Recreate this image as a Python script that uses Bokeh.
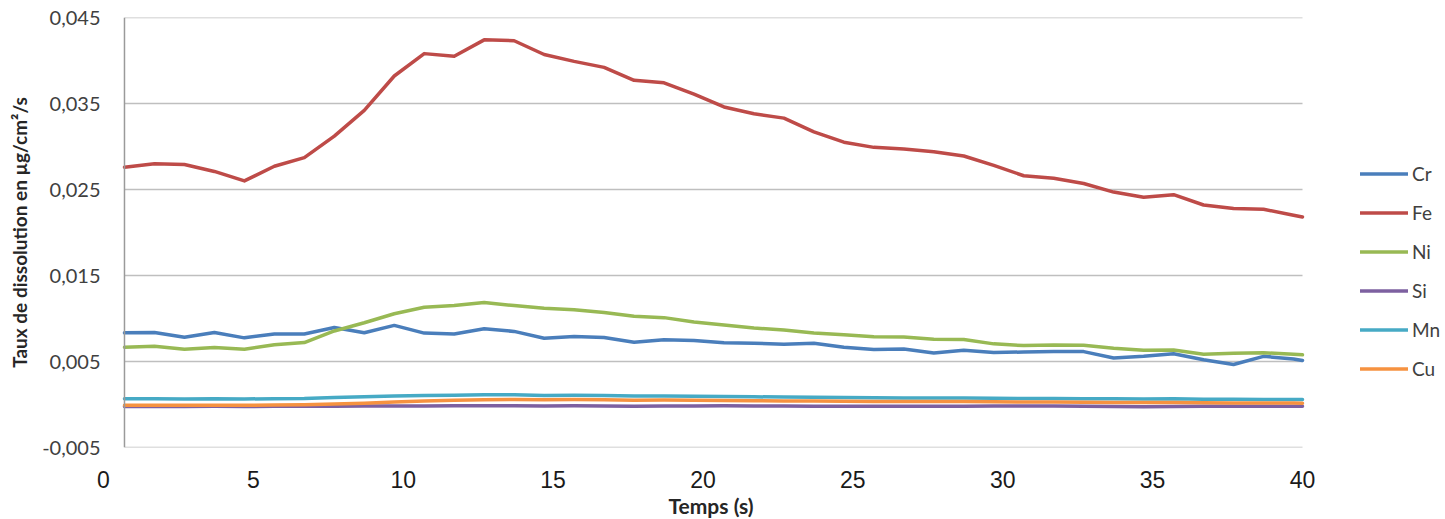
from bokeh.plotting import figure
from bokeh.models import (Range1d, FixedTicker, CustomJSTickFormatter, Span,
                          Legend, LegendItem, Title)
from bokeh.embed import file_html
from bokeh.resources import INLINE

# ---------------- data ----------------
time_s = [0.7, 1.7, 2.7, 3.7, 4.7, 5.7, 6.7, 7.7, 8.7, 9.7,
          10.7, 11.7, 12.7, 13.7, 14.7, 15.7, 16.7, 17.7, 18.7, 19.7,
          20.7, 21.7, 22.7, 23.7, 24.7, 25.7, 26.7, 27.7, 28.7, 29.7,
          30.7, 31.7, 32.7, 33.7, 34.7, 35.7, 36.7, 37.7, 38.7, 39.7, 40.0]

cr = [0.00833, 0.00838, 0.00783, 0.00838, 0.00775, 0.00820, 0.00820, 0.00895, 0.00835, 0.00920,
      0.00830, 0.00820, 0.00880, 0.00850, 0.00771, 0.00792, 0.00780, 0.00725, 0.00752, 0.00745,
      0.00717, 0.00712, 0.00700, 0.00712, 0.00665, 0.00640, 0.00645, 0.00600, 0.00630, 0.00605,
      0.00610, 0.00615, 0.00615, 0.00540, 0.00560, 0.00590, 0.00520, 0.00465, 0.00560, 0.00530,
      0.00512]

fe = [0.0276, 0.0280, 0.0279, 0.0271, 0.0260, 0.0277, 0.0287, 0.0312, 0.0342, 0.0382,
      0.0408, 0.0405, 0.0424, 0.0423, 0.0407, 0.0399, 0.0392, 0.0377, 0.0374, 0.0361,
      0.0346, 0.0338, 0.0333, 0.0317, 0.0305, 0.0299, 0.0297, 0.0294, 0.0289, 0.0278,
      0.0266, 0.0263, 0.0257, 0.0247, 0.0241, 0.0244, 0.0232, 0.0228, 0.0227, 0.0220,
      0.0218]

ni = [0.00666, 0.00676, 0.00643, 0.00664, 0.00643, 0.00694, 0.00720, 0.00855, 0.00950, 0.01055,
      0.01130, 0.01150, 0.01185, 0.01150, 0.01120, 0.01103, 0.01070, 0.01025, 0.01010, 0.00960,
      0.00925, 0.00890, 0.00865, 0.00832, 0.00810, 0.00787, 0.00785, 0.00760, 0.00756, 0.00705,
      0.00685, 0.00692, 0.00688, 0.00655, 0.00630, 0.00634, 0.00585, 0.00597, 0.00601, 0.00585,
      0.00578]

si = [-0.00022, -0.00022, -0.00023, -0.00021, -0.00023, -0.00021, -0.00020, -0.00019, -0.00018, -0.00017,
      -0.00016, -0.00015, -0.00014, -0.00015, -0.00016, -0.00015, -0.00017, -0.00019, -0.00018, -0.00016,
      -0.00015, -0.00016, -0.00018, -0.00019, -0.00020, -0.00021, -0.00020, -0.00019, -0.00020, -0.00018,
      -0.00017, -0.00018, -0.00020, -0.00024, -0.00026, -0.00024, -0.00021, -0.00020, -0.00020, -0.00020,
      -0.00020]

mn = [0.00066, 0.00066, 0.00064, 0.00068, 0.00064, 0.00068, 0.00070, 0.00080, 0.00090, 0.00098,
      0.00105, 0.00108, 0.00113, 0.00112, 0.00105, 0.00108, 0.00104, 0.00098, 0.00100, 0.00095,
      0.00092, 0.00090, 0.00086, 0.00084, 0.00080, 0.00078, 0.00077, 0.00075, 0.00076, 0.00072,
      0.00070, 0.00071, 0.00068, 0.00066, 0.00064, 0.00066, 0.00060, 0.00060, 0.00059, 0.00058,
      0.00058]

cu = [-0.00010, -0.00010, -0.00010, -0.00009, -0.00010, -0.00007, -0.00003, 0.00005, 0.00015, 0.00028,
      0.00040, 0.00050, 0.00056, 0.00058, 0.00056, 0.00058, 0.00055, 0.00050, 0.00052, 0.00048,
      0.00046, 0.00045, 0.00042, 0.00040, 0.00038, 0.00036, 0.00036, 0.00034, 0.00035, 0.00031,
      0.00028, 0.00029, 0.00027, 0.00024, 0.00022, 0.00024, 0.00019, 0.00018, 0.00018, 0.00016,
      0.00015]

series_names = ["Cr", "Fe", "Ni", "Si", "Mn", "Cu"]
series_values = [cr, fe, ni, si, mn, cu]
series_colors = ["#4A7EBB", "#BE4B48", "#98B954", "#7D60A0", "#46AAC5", "#F69240"]

y_ticks = [-0.005, 0.005, 0.015, 0.025, 0.035, 0.045]
x_ticks = [0, 5, 10, 15, 20, 25, 30, 35, 40]

# ---------------- layout (pixels) ----------------
W, H = 1445, 519
LEFT, TOP, BOTTOM = 103, 17, 72
PLOT_RIGHT = 1302                      # where x = 40 sits
frame_w = W - LEFT                     # frame runs to the right edge (legend lives inside)
x_end = x_ticks[-1] * frame_w / (PLOT_RIGHT - LEFT)

p = figure(width=W, height=H,
           x_range=Range1d(0, x_end), y_range=Range1d(y_ticks[0], y_ticks[-1]),
           output_backend="svg", toolbar_location=None,
           min_border_left=LEFT, min_border_right=0,
           min_border_top=TOP, min_border_bottom=BOTTOM)
p.outline_line_color = None
p.background_fill_color = "white"
p.border_fill_color = "white"
p.xgrid.visible = False
p.ygrid.visible = False

# horizontal gridlines starting at the vertical axis and ending at x = 40
n = len(y_ticks)
p.segment(x0=[time_s[0]] * n, x1=[x_ticks[-1]] * n, y0=y_ticks, y1=y_ticks,
          line_color="#BFBFBF", line_width=1.5)

# vertical axis line at start of data
p.add_layout(Span(location=time_s[0], dimension="height",
                  line_color="#9A9A9A", line_width=1.5))

renderers = []
for name, vals, col in zip(series_names, series_values, series_colors):
    r = p.line(time_s, vals, line_color=col, line_width=3.5,
               line_join="round", line_cap="round")
    renderers.append((name, r))

# y axis
p.yaxis.ticker = FixedTicker(ticks=y_ticks)
p.yaxis.formatter = CustomJSTickFormatter(code="return tick.toFixed(3).replace('.', ',');")
p.yaxis.axis_line_color = None
p.yaxis.major_tick_line_color = None
p.yaxis.minor_tick_line_color = None
p.yaxis.major_tick_out = 0
p.yaxis.major_label_standoff = 3
p.yaxis.major_label_text_font = "Lato"
p.yaxis.major_label_text_font_size = "20px"
p.yaxis.major_label_text_color = "#404040"
p.yaxis.axis_label = "Taux de dissolution en µg/cm²/s"
p.yaxis.axis_label_text_font = "Lato"
p.yaxis.axis_label_text_font_style = "bold"
p.yaxis.axis_label_text_font_size = "19px"
p.yaxis.axis_label_text_color = "#262626"
p.yaxis.axis_label_standoff = 8

# x axis
p.xaxis.ticker = FixedTicker(ticks=x_ticks)
p.xaxis.axis_line_color = None
p.xaxis.major_tick_line_color = None
p.xaxis.minor_tick_line_color = None
p.xaxis.major_tick_out = 0
p.xaxis.major_label_standoff = 23
p.xaxis.major_label_text_font = "Liberation Sans"
p.xaxis.major_label_text_font_size = "23px"
p.xaxis.major_label_text_color = "#1a1a1a"

# x-axis title, positioned under the 0..40 span
x_title = Title(text="Temps (s)", align="left", offset=565, standoff=0,
                text_font="Lato", text_font_style="bold", text_font_size="21px",
                text_color="#262626")
p.add_layout(x_title, "below")

legend = Legend(items=[LegendItem(label=nm, renderers=[r]) for nm, r in renderers],
                location=(1360 - LEFT, 67), glyph_width=48, glyph_height=23,
                label_height=23, spacing=16, padding=0, margin=0,
                label_standoff=4, label_text_font="Lato",
                label_text_font_size="19px", label_text_color="#404040",
                border_line_color=None, background_fill_alpha=0)
p.add_layout(legend, "center")

open("out.html", "w").write(file_html(p, INLINE))
